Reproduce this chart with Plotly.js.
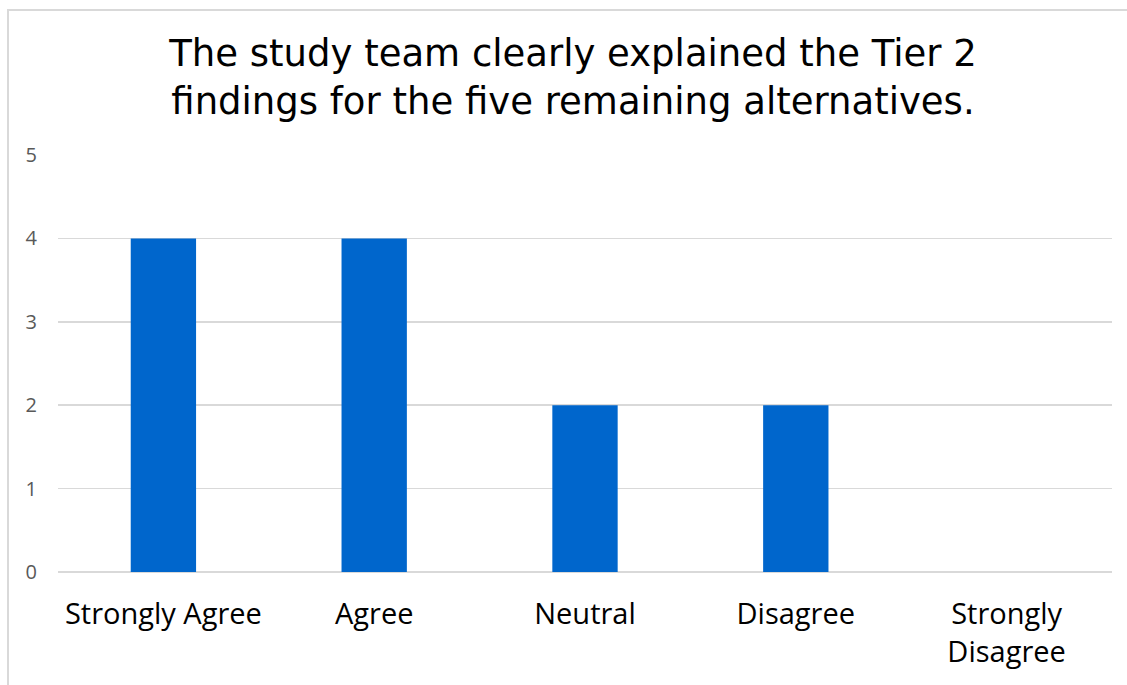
<!DOCTYPE html>
<html>
<head>
<meta charset="utf-8">
<script src="https://cdn.plot.ly/plotly-3.0.1.min.js"></script>
<style>
html, body { margin: 0; padding: 0; background: #fff; }
#wrap { position: relative; width: 1127px; height: 685px; overflow: hidden; }
#chart { position: absolute; left: 0; top: 0; width: 1127px; height: 685px; }
#frame { position: absolute; left: 7px; top: 9px; width: 1140px; height: 700px; border: 2px solid #d9d9d9; pointer-events: none; box-sizing: border-box; }
</style>
</head>
<body>
<div id="wrap">
  <div id="chart"></div>
  <div id="frame"></div>
</div>
<script>
const categories = ["Strongly Agree", "Agree", "Neutral", "Disagree", "Strongly<br>Disagree"];
const responses = [4, 4, 2, 2, 0];
const titleText = "The study team clearly explained the Tier 2<br>findings for the five remaining alternatives.";

const trace = {
  type: "bar",
  x: categories,
  y: responses,
  marker: { color: "#0066CC" },
  hoverinfo: "x+y"
};

const layout = {
  width: 1127,
  height: 685,
  autosize: false,
  paper_bgcolor: "rgba(0,0,0,0)",
  plot_bgcolor: "rgba(0,0,0,0)",
  margin: { l: 58, r: 15, t: 155, b: 113 },
  bargap: 0.69,
  showlegend: false,
  title: {
    text: titleText,
    font: { family: "DejaVu Sans, sans-serif", size: 37, color: "#000000" },
    x: 573 / 1127,
    xanchor: "center",
    xref: "container",
    y: 1 - 66 / 685,
    yanchor: "top",
    yref: "container"
  },
  xaxis: {
    type: "category",
    showgrid: false,
    showline: false,
    ticks: "",
    ticklabelstandoff: 22,
    tickfont: { family: "Open Sans, sans-serif", size: 29, color: "#000000" }
  },
  yaxis: {
    range: [0, 5],
    dtick: 1,
    tick0: 0,
    showgrid: true,
    gridcolor: "#d9d9d9",
    gridwidth: 1.5,
    zeroline: true,
    zerolinecolor: "#d9d9d9",
    zerolinewidth: 1.5,
    showline: false,
    ticks: "",
    ticklabelstandoff: 20,
    tickfont: { family: "Open Sans, sans-serif", size: 20, color: "#595959" }
  }
};

Plotly.newPlot("chart", [trace], layout, { displayModeBar: false, staticPlot: true });
</script>
</body>
</html>
